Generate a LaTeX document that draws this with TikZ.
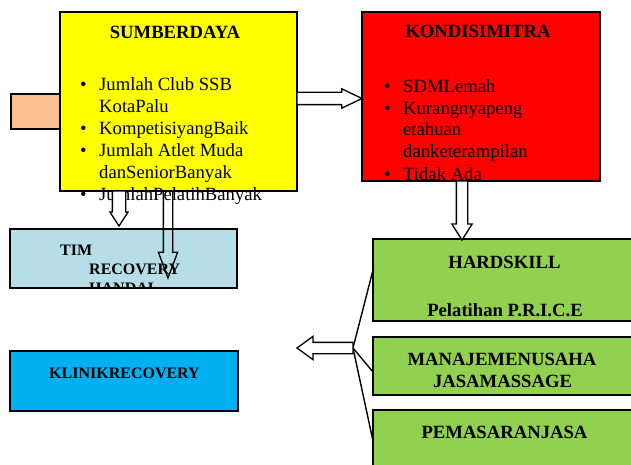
\documentclass[tikz,border=0pt]{standalone}
\usepackage{fontspec}
\setmainfont{Liberation Serif}
\usetikzlibrary{shapes.arrows,calc,positioning}
\definecolor{kuning}{HTML}{FFFF00}
\definecolor{merah}{HTML}{FF0000}
\definecolor{hijau}{HTML}{92D050}
\definecolor{birumuda}{HTML}{B7DDE8}
\definecolor{biru}{HTML}{00B0F0}
\definecolor{oranye}{HTML}{FAC090}
\newcommand{\besar}{\fontsize{18.67}{21.8}\selectfont}
\newcommand{\kecil}{\fontsize{16}{19}\selectfont}
\newcommand{\butir}{\makebox[19pt][l]{\textbullet}}
\newcommand{\sambung}{\hspace*{19pt}}
\tikzset{
	kotak/.style={draw, line width=1.8pt, inner sep=0pt, outer sep=0pt},
	judul/.style={font=\besar\bfseries, inner sep=0pt},
	isi/.style={font=\besar, inner sep=0pt, align=left},
	blokpanah/.style={single arrow, draw, line width=1.3pt, fill=white,
		inner xsep=0pt, outer sep=0pt},
	garis/.style={line width=1.4pt}
}

\begin{document}
\begin{tikzpicture}[x=1pt,y=-1pt]
	\useasboundingbox (0,0) rectangle (631,465);
	\clip (0,0) rectangle (631,465);
	% Kotak-kotak
	\node[kotak, fill=oranye, minimum width=59pt, minimum height=35pt] (kiri) at (40.5,111.5) {};
	\node[kotak, fill=kuning, minimum width=237pt, minimum height=179pt] (sumber) at (178.5,101.5) {};
	\node[kotak, fill=merah, minimum width=238pt, minimum height=169pt] (kondisi) at (481,96.5) {};
	\node[kotak, fill=birumuda, minimum width=227pt, minimum height=59pt] (tim) at (123.5,258.5) {};
	\node[kotak, fill=biru, minimum width=228pt, minimum height=60pt] (klinik) at (124,381) {};
	\node[kotak, fill=hijau, minimum width=270pt, minimum height=82pt] (hard) at (508,280) {};
	\node[kotak, fill=hijau, minimum width=270pt, minimum height=58pt] (manaj) at (508,366) {};
	\node[kotak, fill=hijau, minimum width=270pt, minimum height=70pt] (pemasaran) at (508,445) {};

	% Teks (base = baris terakhir)
	\node[judul, anchor=base] (sumberjudul) at (175,39) {SUMBERDAYA};
	\node[isi, anchor=base west] (sumberisi) at (80,200) {%
		\butir Jumlah Club SSB\\
		\sambung KotaPalu\\
		\butir KompetisiyangBaik\\
		\butir Jumlah Atlet Muda\\
		\sambung danSeniorBanyak\\
		\butir JumlahPelatihBanyak};
	\node[judul, anchor=base] (kondisijudul) at (478,38) {KONDISIMITRA};
	\begin{scope}
		\clip (kondisi.south west) rectangle (kondisi.north east);
		\node[isi, font=\fontsize{18.67}{22}\selectfont, anchor=base west] (kondisiisi) at (384,180) {%
			\butir SDMLemah\\
			\butir Kurangnyapeng\\
			\sambung etahuan\\
			\sambung danketerampilan\\
			\butir Tidak Ada};
	\end{scope}
	\begin{scope}
		\clip (tim.south west) rectangle (tim.north east);
		\node[font=\kecil\bfseries, inner sep=0pt, align=left, anchor=base west] (timisi) at (60,293)
			{TIM\\\hspace*{29pt}RECOVERY\\\hspace*{29pt}HANDAL};
	\end{scope}
	\node[font=\kecil\bfseries, inner sep=0pt, anchor=base] (klinikisi) at (124.5,378) {KLINIKRECOVERY};
	\node[judul, anchor=base] (hardjudul) at (504.5,268) {HARDSKILL};
	\node[judul, anchor=base] (hardisi) at (505,316) {Pelatihan P.R.I.C.E};
	\node[judul, anchor=base] (manajjudul) at (502,365) {MANAJEMENUSAHA};
	\node[judul, anchor=base] (manajisi) at (502.5,387) {JASAMASSAGE};
	\node[judul, anchor=base] (pemasaranjudul) at (504.5,438) {PEMASARANJASA};

	% Kurung cabang
	\coordinate (cabang) at (353,348);
	\draw[garis] (cabang) -- ($(hard.north west)+(0,31)$);
	\draw[garis] (cabang) -- ($(manaj.north west)+(0,35)$);
	\draw[garis] (cabang) -- ($(pemasaran.north west)+(0,31)$);

	% Panah blok
	\node[blokpanah, inner ysep=5.5pt, single arrow head extend=3.5pt, single arrow tip angle=51,
		minimum height=65pt, anchor=tail] (panahkanan) at ($(sumber.east)+(0,-3)$) {};
	\node[blokpanah, rotate=-90, inner ysep=6pt, single arrow head extend=2.5pt, single arrow tip angle=66,
		minimum height=35pt, anchor=tail] (panahpendek) at ($(sumber.south)+(-59.5,0)$) {};
	\node[blokpanah, rotate=-90, fill=none, inner ysep=4pt, single arrow head extend=5pt, single arrow tip angle=41,
		minimum height=87pt, anchor=tail] (panahpanjang) at ($(sumber.south)+(-10.5,0)$) {};
	\node[blokpanah, rotate=-90, inner ysep=5pt, single arrow head extend=4.5pt, single arrow tip angle=65,
		minimum height=59pt, anchor=tail] (panahbawah) at ($(kondisi.south)+(-19,0)$) {};
	\node[blokpanah, rotate=180, inner ysep=5pt, single arrow head extend=6pt, single arrow tip angle=72,
		minimum height=56pt, anchor=tail] (panahkiri) at (cabang) {};
\end{tikzpicture}
\end{document}
